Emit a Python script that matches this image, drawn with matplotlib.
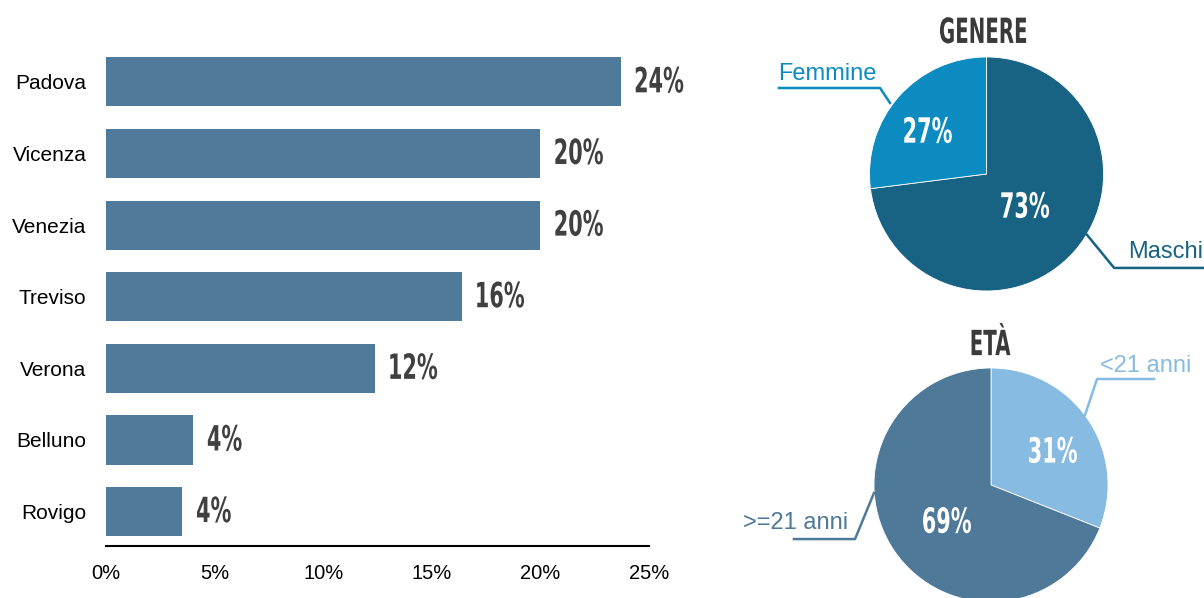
import matplotlib
matplotlib.use("Agg")
import matplotlib.pyplot as plt
from matplotlib.textpath import TextPath
from matplotlib.patches import PathPatch
from matplotlib.font_manager import FontProperties
from matplotlib.transforms import Affine2D, ScaledTranslation

# -----------------------------
# Data
# -----------------------------
province = ["Padova", "Vicenza", "Venezia", "Treviso", "Verona", "Belluno", "Rovigo"]
province_pct = [23.7, 20.0, 20.0, 16.4, 12.4, 4.0, 3.5]
province_lbl = ["24%", "20%", "20%", "16%", "12%", "4%", "4%"]
xticks = [0, 5, 10, 15, 20, 25]

genere_names = ["Maschi", "Femmine"]
genere_vals = [73, 27]

eta_names = ["<21 anni", ">=21 anni"]
eta_vals = [31, 69]

# -----------------------------
# Styles
# -----------------------------
BAR = "#4f7a9a"
MASCHI = "#186283"
FEMMINE = "#0b8bbf"
YOUNG = "#88bbe1"
OLD = "#4f7999"
DARK = "#404040"
plt.rcParams["font.family"] = ["Liberation Sans", "DejaVu Sans"]

fig = plt.figure(figsize=(12.04, 5.98), dpi=100)

BOLD = FontProperties(family="DejaVu Sans", weight="bold")


def cond_text(ax, x, y, s, size=25, color=DARK, ha="center", va="center",
              sx=0.6, dx=0):
    # condensed bold text: DejaVu bold glyphs squeezed horizontally
    tp = TextPath((0, 0), s, size=size, prop=BOLD)
    bb = tp.get_extents()
    x0 = {"left": -bb.x0, "center": -(bb.x0 + bb.x1) / 2}[ha]
    y0 = {"center": -(bb.y0 + bb.y1) / 2, "baseline": 0}[va]
    tr = (Affine2D().translate(x0, y0).scale(sx / 72, 1 / 72)
          + fig.dpi_scale_trans
          + ScaledTranslation(x, y, ax.transData)
          + Affine2D().translate(dx, 0))
    ax.add_patch(PathPatch(tp, transform=tr, facecolor=color, edgecolor="none",
                           clip_on=False))


# -----------------------------
# Bar chart
# -----------------------------
ax = fig.add_axes([0.088, 0.087, 0.451, 0.836])
ypos = list(range(len(province)))[::-1]
ax.barh(ypos, province_pct, height=0.685, color=BAR)
ax.set_xlim(0, 25)
ax.set_ylim(-0.48, 6.5)
for y, v, s in zip(ypos, province_pct, province_lbl):
    cond_text(ax, v, y + 0.03, s, ha="left", dx=15)
ax.set_yticks(ypos)
ax.set_yticklabels(province, fontsize=15)
ax.set_xticks(xticks)
ax.set_xticklabels([f"{t}%" for t in xticks], fontsize=14.5)
ax.tick_params(axis="y", length=0, pad=14)
ax.tick_params(axis="x", length=0, pad=13)
for s in ["top", "right", "left"]:
    ax.spines[s].set_visible(False)
ax.spines["bottom"].set_linewidth(1.5)
ax.spines["bottom"].set_color("black")

# -----------------------------
# Pie: GENERE
# -----------------------------
p1 = fig.add_axes([0.7222, 0.5134, 0.1944, 0.3913])
p1.pie(genere_vals, colors=[MASCHI, FEMMINE], startangle=90, counterclock=False,
       radius=1, wedgeprops=dict(linewidth=0.6, edgecolor="white"))
p1.set_xlim(-1, 1)
p1.set_ylim(-1, 1)
p1.set_aspect("auto")
p1.axis("off")
cond_text(p1, -0.03, 1.12, "GENERE", va="baseline", color="#3a3a3a", sx=0.57)
cond_text(p1, 0.33, -0.265, f"{genere_vals[0]}%", color="white")
cond_text(p1, -0.50, 0.376, f"{genere_vals[1]}%", color="white")
p1.plot([-1.774, -0.910, -0.825], [0.735, 0.735, 0.607], color=FEMMINE, lw=1.8,
        clip_on=False)
p1.text(-1.782, 0.80, genere_names[1], ha="left", va="baseline", fontsize=17,
        color=FEMMINE, clip_on=False)
p1.plot([0.859, 1.090, 1.90], [-0.521, -0.803, -0.803], color=MASCHI, lw=1.8,
        clip_on=False)
p1.text(1.21, -0.718, genere_names[0], ha="left", va="baseline", fontsize=17,
        color=MASCHI, clip_on=False)

# -----------------------------
# Pie: ETA
# -----------------------------
p2 = fig.add_axes([0.7259, -0.0067, 0.1944, 0.3913])
p2.pie(eta_vals, colors=[YOUNG, OLD], startangle=90, counterclock=False,
       radius=1, wedgeprops=dict(linewidth=0.6, edgecolor="white"))
p2.set_xlim(-1, 1)
p2.set_ylim(-1, 1)
p2.set_aspect("auto")
p2.axis("off")
cond_text(p2, 0.0, 1.11, "ETÀ", va="baseline", color="#3a3a3a", sx=0.57)
cond_text(p2, 0.53, 0.30, f"{eta_vals[0]}%", color="white")
cond_text(p2, -0.376, -0.30, f"{eta_vals[1]}%", color="white")
p2.plot([1.393, 0.906, 0.803], [0.906, 0.906, 0.598], color=YOUNG, lw=1.8,
        clip_on=False)
p2.text(0.93, 0.966, eta_names[0], ha="left", va="baseline", fontsize=17,
        color=YOUNG, clip_on=False)
p2.plot([-1.684, -1.162, -1.0], [-0.462, -0.462, -0.068], color=OLD, lw=1.8,
        clip_on=False)
p2.text(-2.12, -0.376, eta_names[1], ha="left", va="baseline", fontsize=17,
        color=OLD, clip_on=False)

fig.savefig("out.png", dpi=100)
